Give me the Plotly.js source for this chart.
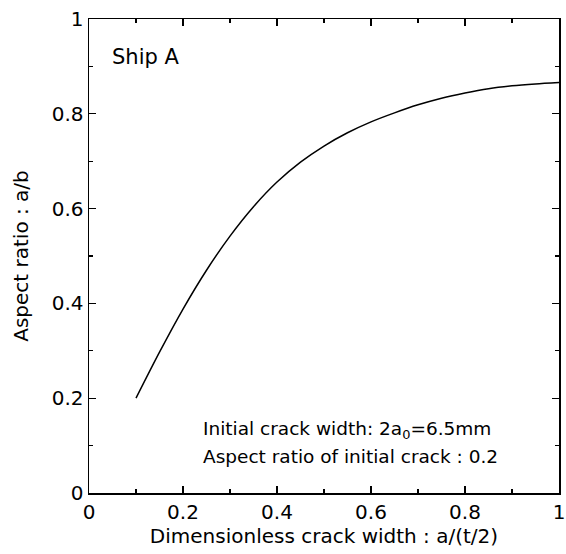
<!DOCTYPE html>
<html>
<head>
<meta charset="utf-8">
<script src="https://cdn.plot.ly/plotly-3.0.1.min.js"></script>
<style>
  html, body { margin: 0; padding: 0; background: #fff; }
  #chart { width: 566px; height: 554px; }
</style>
</head>
<body>
<div id="chart"></div>
<script>
// Dimensionless crack width a/(t/2) and the resulting aspect ratio a/b
const crackWidth = [0.10, 0.15, 0.20, 0.25, 0.30, 0.35, 0.40, 0.45, 0.50, 0.55,
                    0.60, 0.65, 0.70, 0.75, 0.80, 0.85, 0.90, 0.95, 1.00];
const aspectRatio = [0.200, 0.297, 0.388, 0.470, 0.542, 0.604, 0.656, 0.698, 0.732, 0.760,
                     0.783, 0.802, 0.819, 0.833, 0.844, 0.853, 0.859, 0.863, 0.866];

const tickVals = [0, 0.2, 0.4, 0.6, 0.8, 1];
const tickText = ['0', '0.2', '0.4', '0.6', '0.8', '1'];

const font = '"DejaVu Sans", sans-serif';

const axisCommon = {
  range: [0, 1],
  tickvals: tickVals,
  ticktext: tickText,
  ticks: 'inside',
  ticklen: 7,
  tickwidth: 1.2,
  tickcolor: '#000',
  showline: true,
  linecolor: '#000',
  linewidth: 1.5,
  mirror: 'ticks',
  showgrid: false,
  zeroline: false,
  ticklabeloverflow: 'allow',
  tickfont: { family: font, size: 20, color: '#000' },
  minor: { dtick: 0.1, tick0: 0, ticks: 'inside', ticklen: 4, tickwidth: 1.2, tickcolor: '#000', showgrid: false }
};

const trace = {
  x: crackWidth,
  y: aspectRatio,
  mode: 'lines',
  line: { color: '#000', width: 1.5, shape: 'spline', smoothing: 0.8 },
  hoverinfo: 'skip'
};

const layout = {
  width: 566,
  height: 554,
  margin: { l: 89, r: 7, t: 19, b: 61 },
  paper_bgcolor: '#fff',
  plot_bgcolor: '#fff',
  showlegend: false,
  xaxis: Object.assign({}, axisCommon, {
    title: { text: 'Dimensionless crack width : a/(t/2)', font: { family: font, size: 20, color: '#000' }, standoff: 4 }
  }),
  yaxis: Object.assign({}, axisCommon, {
    title: { text: 'Aspect ratio : a/b', font: { family: font, size: 20, color: '#000' }, standoff: 17 }
  }),
  annotations: [
    {
      x: 0.044, y: 0.92, xref: 'x', yref: 'y', xanchor: 'left', yanchor: 'middle',
      text: 'Ship A', showarrow: false,
      font: { family: font, size: 21, color: '#000' }
    },
    {
      x: 0.238, y: 0.133, xref: 'x', yref: 'y', xanchor: 'left', yanchor: 'middle',
      text: 'Initial crack width: 2a<sub>0</sub>=6.5mm', showarrow: false,
      font: { family: font, size: 18.5, color: '#000' }
    },
    {
      x: 0.238, y: 0.076, xref: 'x', yref: 'y', xanchor: 'left', yanchor: 'middle',
      text: 'Aspect ratio of initial crack : 0.2', showarrow: false,
      font: { family: font, size: 18.5, color: '#000' }
    }
  ]
};

Plotly.newPlot('chart', [trace], layout, { staticPlot: true, displayModeBar: false });
</script>
</body>
</html>
